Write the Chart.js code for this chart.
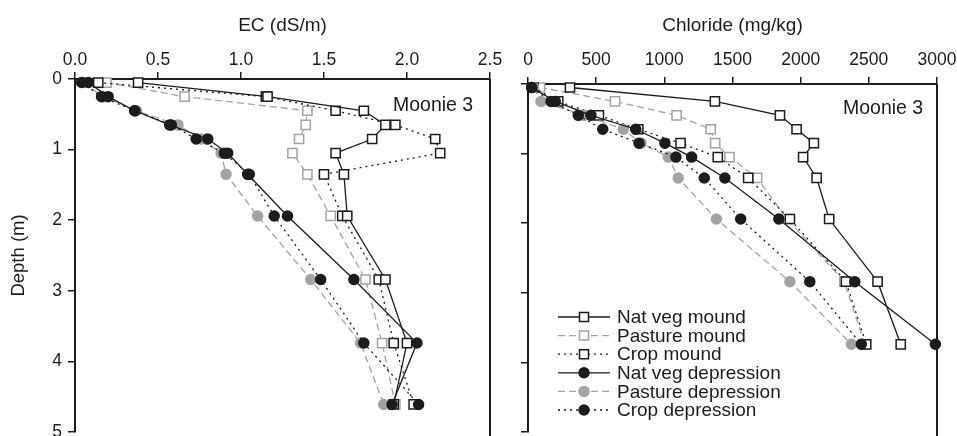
<!DOCTYPE html>
<html><head><meta charset="utf-8">
<script src="https://cdn.jsdelivr.net/npm/chart.js@4/dist/chart.umd.min.js"></script>
<style>
html,body{margin:0;padding:0;background:#fff;}
#wrap{position:relative;width:957px;height:436px;overflow:hidden;background:#fff;}
canvas{position:absolute;top:0;}
</style></head><body>
<div id="wrap">
<canvas id="c1" width="520" height="440" style="left:0;width:520px;height:440px"></canvas>
<canvas id="c2" width="457" height="440" style="left:500px;width:457px;height:440px"></canvas>
</div>
<script>
// ---------- data ----------
const seriesNames = ['Nat veg mound','Pasture mound','Crop mound','Nat veg depression','Pasture depression','Crop depression'];

const depthEC = [0.05, 0.25, 0.45, 0.65, 0.85, 1.05, 1.35, 1.94, 2.84, 3.74, 4.61];
const ecNatVegMound   = [0.38, 1.16, 1.74, 1.87, 1.79, 1.57, 1.62, 1.64, 1.87, 2.00, 1.92];
const ecPastureMound  = [0.19, 0.66, 1.40, 1.39, 1.35, 1.31, 1.40, 1.54, 1.75, 1.85, 1.93];
const ecCropMound     = [0.14, 1.15, 1.57, 1.93, 2.17, 2.20, 1.50, 1.61, 1.83, 1.92, 2.04];
const ecNatVegDep     = [0.08, 0.20, 0.36, 0.57, 0.80, 0.92, 1.04, 1.28, 1.68, 2.06, 1.91];
const ecPastureDep    = [0.05, 0.17, 0.37, 0.62, 0.76, 0.88, 0.91, 1.10, 1.42, 1.72, 1.86];
const ecCropDep       = [0.04, 0.16, 0.36, 0.58, 0.73, 0.90, 1.05, 1.20, 1.48, 1.74, 2.07];

const depthCl = [0.05, 0.25, 0.45, 0.65, 0.85, 1.05, 1.35, 1.94, 2.84, 3.74];
const clNatVegMound   = [308, 1371, 1848, 1970, 2097, 2018, 2117, 2209, 2564, 2734];
const clPastureMound  = [88, 638, 1090, 1340, 1373, 1478, 1681, 1900, 2320, 2470];
const clCropMound     = [40, 222, 520, 809, 1119, 1392, 1615, 1921, 2332, 2481];
const clNatVegDep     = [27, 200, 462, 790, 1004, 1200, 1444, 1840, 2397, 2988];
const clPastureDep    = [40, 95, 413, 699, 830, 1029, 1102, 1382, 1921, 2372];
const clCropDep       = [27, 169, 369, 548, 814, 1085, 1293, 1560, 2067, 2445];

const ecTicks = [0, 0.5, 1.0, 1.5, 2.0, 2.5];
const clTicks = [0, 500, 1000, 1500, 2000, 2500, 3000];
const depthTicks = [0, 1, 2, 3, 4, 5];

// ---------- styles ----------
const FONT = "'Liberation Sans', Arial, Helvetica, sans-serif";
const BLACK = '#1c1c1c';
const GRAY = '#a3a3a3';
const styles = [
  {color: BLACK, dash: [], pointStyle: 'rect', fill: '#ffffff', radius: 6.5, order: 3},
  {color: GRAY,  dash: [7,4], pointStyle: 'rect', fill: '#ffffff', radius: 6.5, order: 5},
  {color: BLACK, dash: [2,4], pointStyle: 'rect', fill: '#ffffff', radius: 6.5, order: 4},
  {color: BLACK, dash: [], pointStyle: 'circle', fill: BLACK, radius: 5, order: 0},
  {color: GRAY,  dash: [7,4], pointStyle: 'circle', fill: GRAY, radius: 5, order: 2},
  {color: BLACK, dash: [2,4], pointStyle: 'circle', fill: BLACK, radius: 5, order: 1}
];

function makeDatasets(depths, seriesList) {
  return seriesList.map((vals, i) => {
    const s = styles[i];
    return {
      label: seriesNames[i],
      data: vals.map((v, k) => ({x: v, y: depths[k]})),
      showLine: true,
      borderColor: s.color,
      borderWidth: 1.3,
      borderDash: s.dash,
      pointStyle: s.pointStyle,
      pointRadius: s.radius,
      pointBackgroundColor: s.fill,
      pointBorderColor: s.color,
      pointBorderWidth: 1.5,
      tension: 0,
      clip: false,
      order: s.order
    };
  });
}

const framePlugin = {
  id: 'frame',
  afterDraw(chart, args, opts) {
    const {ctx, chartArea: a} = chart;
    ctx.save();
    ctx.strokeStyle = BLACK;
    ctx.lineWidth = 2;
    ctx.beginPath();
    ctx.moveTo(a.right, a.top);
    ctx.lineTo(a.right, a.bottom + 8);
    ctx.stroke();
    if (opts.label) {
      ctx.fillStyle = BLACK;
      ctx.font = "19.5px " + FONT;
      ctx.textBaseline = 'middle';
      ctx.textAlign = 'left';
      ctx.fillText(opts.label, opts.lx, opts.ly);
    }
    if (opts.legend) {
      const lg = opts.legend;
      seriesNames.forEach((name, i) => {
        const s = styles[i];
        const y = lg.y0 + i * lg.dy;
        ctx.save();
        ctx.strokeStyle = s.color;
        ctx.lineWidth = 1.3;
        ctx.setLineDash(s.dash);
        ctx.beginPath();
        ctx.moveTo(lg.x0, y);
        ctx.lineTo(lg.x1, y);
        ctx.stroke();
        ctx.setLineDash([]);
        ctx.lineWidth = 1.5;
        ctx.fillStyle = s.fill;
        const mx = (lg.x0 + lg.x1) / 2;
        ctx.beginPath();
        if (s.pointStyle === 'rect') {
          ctx.rect(mx - 4.5, y - 4.5, 9, 9);
        } else {
          ctx.arc(mx, y, 5, 0, Math.PI * 2);
        }
        ctx.fill();
        ctx.stroke();
        ctx.restore();
        ctx.fillStyle = BLACK;
        ctx.font = "19px " + FONT;
        ctx.textBaseline = 'middle';
        ctx.textAlign = 'left';
        ctx.fillText(name, lg.tx, y + 1);
      });
    }
    ctx.restore();
  }
};

function makeChart(id, cfg) {
  const xTickVals = cfg.xTicks;
  return new Chart(document.getElementById(id), {
    type: 'scatter',
    data: {datasets: makeDatasets(cfg.depths, cfg.series)},
    options: {
      responsive: false,
      animation: false,
      devicePixelRatio: 1,
      layout: {padding: cfg.padding},
      plugins: {
        legend: {display: false},
        tooltip: {enabled: false},
        frame: cfg.frame
      },
      scales: {
        x: {
          type: 'linear', position: 'top',
          min: xTickVals[0], max: xTickVals[xTickVals.length - 1],
          afterBuildTicks: s => { s.ticks = xTickVals.map(v => ({value: v})); },
          afterFit: s => { s.height = cfg.topH; s.paddingLeft = 0; s.paddingRight = 0; },
          ticks: {
            autoSkip: false, maxRotation: 0, color: BLACK,
            font: {family: FONT, size: 17.5},
            padding: cfg.xTickPad,
            callback: cfg.xFmt
          },
          grid: {drawOnChartArea: false, drawTicks: true, tickLength: 7, color: BLACK, lineWidth: 1.5},
          border: {display: true, color: BLACK, width: 2},
          title: {display: true, text: cfg.title, color: BLACK,
                  font: {family: FONT, size: 19}, padding: {top: 14, bottom: 0}}
        },
        y: {
          type: 'linear', position: 'left', reverse: true,
          min: 0, max: 5,
          afterBuildTicks: s => { s.ticks = depthTicks.map(v => ({value: v})); },
          afterFit: s => { s.width = cfg.leftW; s.paddingTop = 0; s.paddingBottom = 0; },
          ticks: {
            display: cfg.yLabels, color: BLACK,
            font: {family: FONT, size: 17.5}, padding: 6
          },
          grid: {drawOnChartArea: false, drawTicks: true, tickLength: 7, color: BLACK, lineWidth: 1.5},
          border: {display: true, color: BLACK, width: 2},
          title: {display: cfg.yLabels, text: 'Depth (m)', color: BLACK,
                  font: {family: FONT, size: 18.5}, padding: {top: 8, bottom: 0}}
        }
      }
    },
    plugins: [framePlugin]
  });
}

makeChart('c1', {
  depths: depthEC,
  series: [ecNatVegMound, ecPastureMound, ecCropMound, ecNatVegDep, ecPastureDep, ecCropDep],
  xTicks: ecTicks,
  xFmt: v => Number(v).toFixed(1),
  title: 'EC (dS/m)',
  topH: 79, leftW: 75, xTickPad: 1,
  yLabels: true,
  padding: {left: 0, right: 30, top: 0, bottom: 0},
  frame: {label: 'Moonie 3', lx: 393, ly: 106}
});

makeChart('c2', {
  depths: depthCl,
  series: [clNatVegMound, clPastureMound, clCropMound, clNatVegDep, clPastureDep, clCropDep],
  xTicks: clTicks,
  xFmt: v => String(v),
  title: 'Chloride (mg/kg)',
  topH: 84, leftW: 28, xTickPad: 6,
  yLabels: false,
  padding: {left: 0, right: 20, top: 0, bottom: 0},
  frame: {label: 'Moonie 3', lx: 343, ly: 109,
          legend: {x0: 58, x1: 110, tx: 117, y0: 317, dy: 18.6}}
});
</script>
</body></html>
